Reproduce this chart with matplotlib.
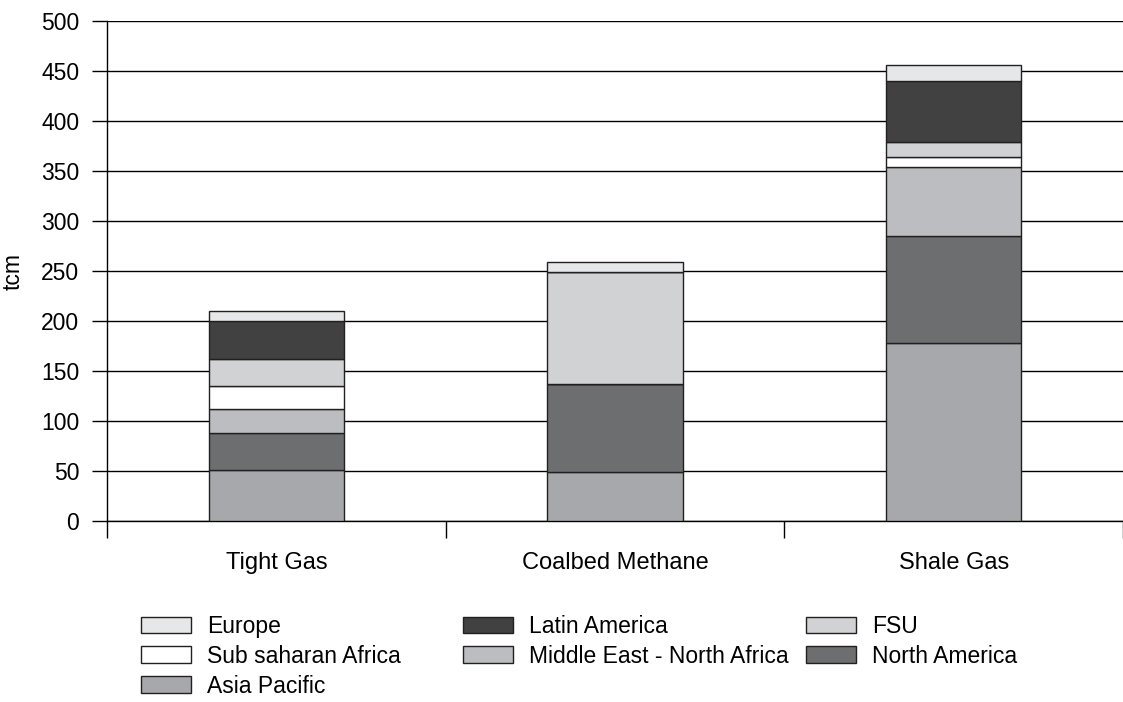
import matplotlib.pyplot as plt
import numpy as np

plt.rcParams['font.family'] = ['Liberation Sans', 'DejaVu Sans']

# data (tcm), stacked bottom -> top
categories = ['Tight Gas', 'Coalbed Methane', 'Shale Gas']
regions = ['Asia Pacific', 'North America', 'Middle East - North Africa',
           'Sub saharan Africa', 'FSU', 'Latin America', 'Europe']
asia_pacific = [51, 49, 178]
north_america = [37, 88, 107]
mena = [24, 0, 69]
sub_saharan = [23, 0, 10]
fsu = [27, 112, 15]
latin_america = [38, 0, 61]
europe = [10, 10, 16]

series = [asia_pacific, north_america, mena, sub_saharan, fsu, latin_america, europe]
colors = ['#a7a8ab', '#6d6e70', '#bcbdc0', '#ffffff', '#d1d2d4', '#414141', '#e6e7e8']

fig = plt.figure(figsize=(11.23, 7.02), dpi=100)
ax = fig.add_axes([107/1123, 1 - 521/702, 1 - 107/1123, 500/702])

x = np.arange(len(categories))
bottom = np.zeros(len(categories))
bars = {}
for name, vals, c in zip(regions, series, colors):
    b = ax.bar(x, vals, 0.4, bottom=bottom, color=c, edgecolor='#231f20',
               linewidth=1.0, zorder=3)
    bars[name] = b
    bottom += np.array(vals)

ax.set_xlim(-0.5, 2.5)
ax.set_ylim(0, 500)
ax.set_yticks(np.arange(0, 501, 50))
ax.yaxis.grid(True, color='black', linewidth=1.0, zorder=0)
ax.set_axisbelow(True)
for s in ['top', 'right']:
    ax.spines[s].set_visible(False)
ax.spines['left'].set_linewidth(1.0)
ax.spines['bottom'].set_linewidth(1.0)

ax.tick_params(axis='y', direction='out', length=11, width=1.0, pad=9, labelsize=16.5)
# category separators as major ticks, names as minor ticks
ax.set_xticks([-0.5, 0.5, 1.5, 2.5])
ax.set_xticklabels([])
ax.tick_params(axis='x', which='major', direction='out', length=12, width=1.0)
ax.set_xticks(x, minor=True)
ax.set_xticklabels(categories, minor=True)
ax.tick_params(axis='x', which='minor', length=0, pad=22, labelsize=17)

ax.set_ylabel('tcm', fontsize=16.5, labelpad=12)

# legend laid out in three columns, filled row by row
cols = [['Europe', 'Sub saharan Africa', 'Asia Pacific'],
        ['Latin America', 'Middle East - North Africa'],
        ['FSU', 'North America']]
col_x = [141/1123, 463/1123, 806/1123]
for names, cx in zip(cols, col_x):
    fig.legend([bars[n] for n in names], names, loc='upper left',
               bbox_to_anchor=(cx, 1 - 615/702), frameon=False, fontsize=16.5,
               handlelength=2.2, handleheight=0.75, handletextpad=0.7,
               labelspacing=0.3, borderaxespad=0, borderpad=0)

fig.savefig('out.png', dpi=100)
